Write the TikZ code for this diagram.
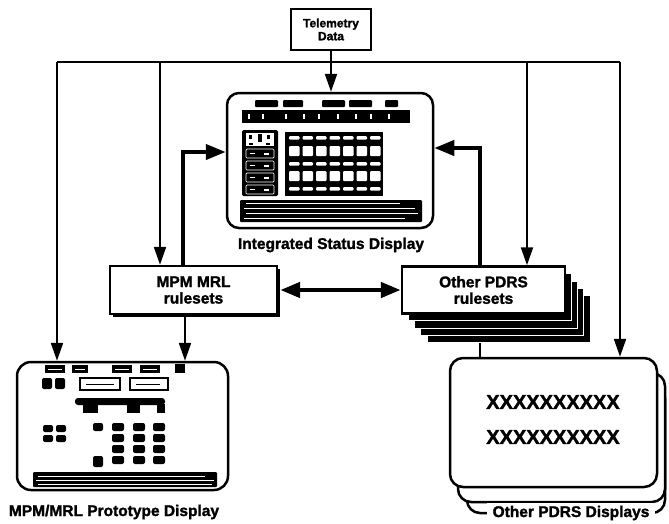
\documentclass[tikz,border=0pt]{standalone}
\usepackage{fontspec}
\setmainfont{Liberation Sans}[BoldFeatures={FakeBold=1.6}]
\usetikzlibrary{arrows.meta}
\begin{document}
\begin{tikzpicture}[x=1pt,y=-1pt,
  lbl/.style={font=\bfseries\fontsize{15.5}{17}\selectfont, inner sep=1pt},
  boxtxt/.style={font=\bfseries\fontsize{15.5}{16.5}\selectfont, align=center},
  sqbox/.style={draw, line width=2.5pt, fill=white, inner sep=0pt},
  disp/.style={draw, line width=2.5pt, fill=white, rounded corners=13pt, inner sep=0pt},
  layer/.style={fill=black, draw=white, line width=0.7pt, inner sep=0pt, minimum width=163pt, minimum height=47pt},
  thinarr/.style={line width=2.2pt, -{Triangle[length=18pt,width=12pt]}},
  thinline/.style={line width=2.2pt},
  thickarr/.style={line width=4pt, -{Triangle[length=20pt,width=15pt]}},
  dblarr/.style={line width=4.5pt, {Triangle[length=20pt,width=15pt]}-{Triangle[length=20pt,width=15pt]}},
  xtxt/.style={font=\bfseries\fontsize{20}{21}\selectfont, inner sep=0pt}
]
\useasboundingbox (0,0) rectangle (669,523);

% ---------- nodes ----------
\node[sqbox, minimum width=80pt, minimum height=41pt, font=\bfseries\fontsize{12}{13}\selectfont, align=center] (tel) at (331,29.5) {Telemetry\\Data};

\node[disp, minimum width=206pt, minimum height=135pt, rounded corners=12pt] (isd) at (330,160.5) {};
\node[lbl] (isdl) at (331,245) {Integrated Status Display};

% MPM MRL rulesets with shadow
\node[fill=black, minimum width=167pt, minimum height=48pt, inner sep=0pt] (mpms) at (196.5,293) {};
\node[sqbox, boxtxt, minimum width=167pt, minimum height=48pt] (mpm) at (193.5,290) {MPM MRL\\rulesets};

% Other PDRS rulesets with stack
\node[layer] (oth4) at (508.5,319) {};
\node[layer] (oth3) at (502.25,311.75) {};
\node[layer] (oth2) at (496,304.5) {};
\node[layer] (oth1) at (489.75,297.25) {};
\node[sqbox, boxtxt, minimum width=163pt, minimum height=47pt] (oth) at (483.5,290) {Other PDRS\\rulesets};

% MPM/MRL prototype display
\node[disp, minimum width=211pt, minimum height=128pt, rounded corners=14pt] (proto) at (122.5,426) {};
\node[lbl] (protol) at (114,512) {MPM/MRL Prototype Display};

% Other PDRS displays
\node[disp, minimum width=198pt, minimum height=128pt] (odispc) at (566,449) {};
\node[disp, minimum width=207pt, minimum height=129pt] (odispb) at (561.5,437.5) {};
\node[disp, minimum width=207pt, minimum height=129pt] (odisp) at (553.5,422.5) {};
\node[lbl, fill=white, inner xsep=6pt, inner ysep=3pt] (odispl) at (571,513) {Other PDRS Displays};
\node[xtxt] (x1) at (553,402) {XXXXXXXXXX};
\node[xtxt] (x2) at (553,437) {XXXXXXXXXX};

% ---------- connectors ----------
\coordinate (b1) at (57,62);
\coordinate (b2) at (160,62);
\coordinate (b3) at (527,62);
\coordinate (b4) at (620,62);
\draw[thinline] (b1) -- (b4);
\draw[thinarr] (b1) -- (b1 |- proto.north);
\draw[thinarr] (b2) -- (b2 |- mpm.north);
\draw[thinarr] (b3) -- (b3 |- oth.north);
\draw[thinarr] (b4) -- (b4 |- odisp.north);
\draw[thinarr] (tel.south) -- (tel.south |- isd.north);

\coordinate (m1) at (183,152);
\draw[thickarr] (mpm.north -| m1) -- (m1) -- (isd.west |- m1);
\coordinate (o1) at (480,148);
\draw[thickarr] (oth.north -| o1) -- (o1) -- (isd.east |- o1);

\draw[dblarr] (mpm.east -| mpms.east) -- (oth.west);

\coordinate (m2) at (185,0);
\draw[thinarr] (mpms.south -| m2) -- (m2 |- proto.north);
\coordinate (o2) at (480,0);
\draw[thinline] (oth4.south -| o2) -- (o2 |- odisp.north);

% ---------- Integrated Status Display internals ----------
\foreach \a/\b in {255/278,283/303,322/345,349/372,385/398}
  \fill[rounded corners=1pt] (\a,100) rectangle (\b,107);
\fill (242,110) rectangle (410,123);
\foreach \t in {248,262,285,303,318,337,355,370,388}
  \fill[white] (\t,114) rectangle ++(1.5,5);
\fill[rounded corners=1.5pt] (242,130) rectangle (278,196);
\fill[white] (246,133) rectangle (274,146);
\fill (249,135) rectangle (252,139);
\fill (258,134) rectangle (262,142);
\fill (267,135) rectangle (270,139);
\fill (249,143) rectangle (253,145);
\fill (266,143) rectangle (270,145);
\foreach \y in {149,161,173,185}{
  \draw[white,line width=0.7pt,rounded corners=1pt] (246,\y) rectangle (274,{\y+9});
  \fill[white] (250,{\y+4}) rectangle (255,{\y+5});
  \fill[white] (264,{\y+4}) rectangle (269,{\y+5.5});
}
\fill (285,132) rectangle (383,196);
\foreach \i in {0,...,6}{
  \foreach \ya/\yb in {136/139.5,146/156,162/165.5,171/181,187/190.5}
    \fill[white,rounded corners=1pt] ({289+13.5*\i},\ya) rectangle ({299.5+13.5*\i},\yb);
}
\fill[rounded corners=1pt] (240,200) rectangle (422,222);
\foreach \y/\a/\b in {203.5/246/400,208.5/244/415,213/246/418,218/244/405}
  \draw[white,line width=0.6pt] (\a,\y) -- (\b,\y);

% ---------- Prototype display internals ----------
\foreach \a/\b in {45/65,72/88,112/132,140/160}{
  \fill (\a,365) rectangle (\b,373);
  \draw[white,line width=0.6pt] ({\a+3},369) -- ({\b-3},369);
}
\fill (175,364) rectangle (185,373);
\fill[rounded corners=2pt] (42,378) rectangle (52,389);
\fill[rounded corners=2pt] (55,378) rectangle (65,389);
\draw[line width=2pt] (80,378) rectangle (120,390);
\draw[line width=1pt] (86,384) -- (114,384);
\draw[line width=2pt] (130,378) rectangle (168,390);
\draw[line width=1pt] (136,384) -- (160,384);
\fill[rounded corners=3pt] (75,398) rectangle (165,405);
\fill (83,404) rectangle (98,413);
\fill (127,404) rectangle (140,413);
\fill (157,404) rectangle (165,413);
\foreach \x in {43,56}
  \foreach \y in {425,435}
    \fill[rounded corners=2pt] (\x,\y) rectangle ++(10,7);
\fill[rounded corners=2pt] (93,423) rectangle (103,431);
\fill[rounded corners=2pt] (93,456) rectangle (103,467);
\foreach \x in {112,133,153}
  \foreach \y in {423,434,445,456}
    \fill[rounded corners=2pt] (\x,\y) rectangle ++(12,8);
\fill[rounded corners=1pt] (33,472) rectangle (217,487);
\foreach \y/\a/\b in {476/38/205,480/36/214,484/38/212}
  \draw[white,line width=0.6pt] (\a,\y) -- (\b,\y);
\end{tikzpicture}
\end{document}
